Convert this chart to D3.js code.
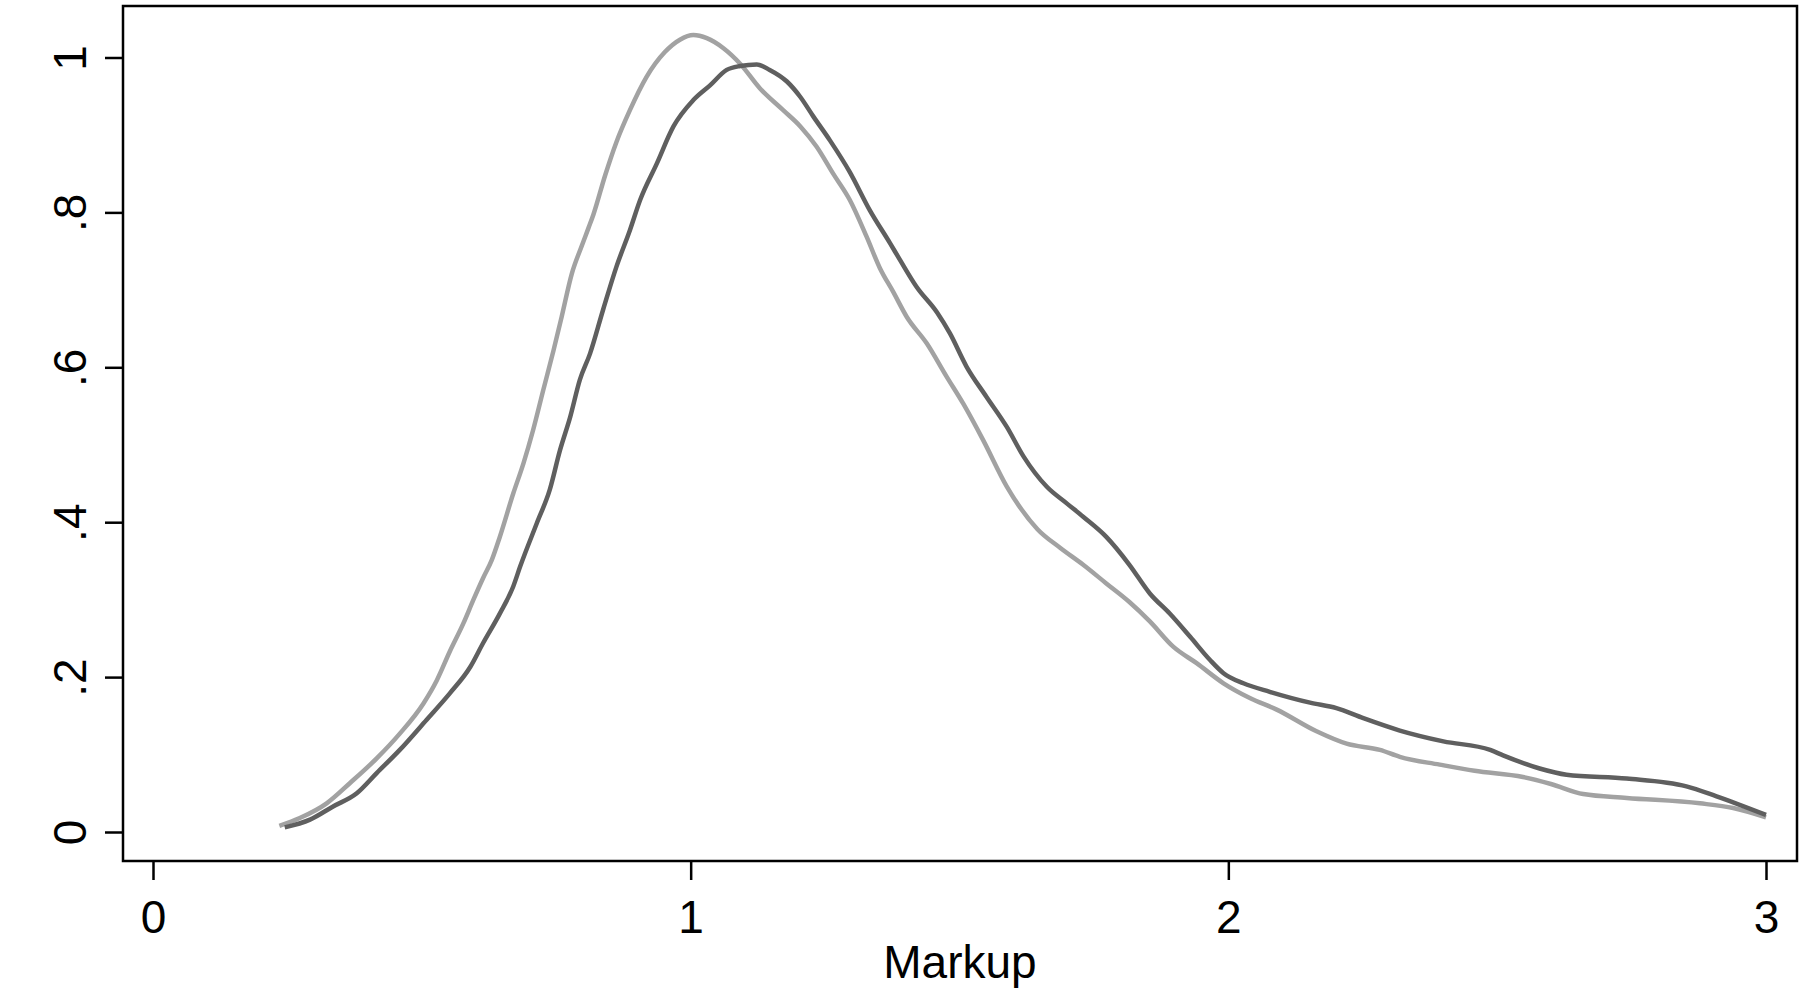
<!DOCTYPE html>
<html>
<head>
<meta charset="utf-8">
<script src="https://cdn.jsdelivr.net/npm/d3@7"></script>
<style>
  body { margin: 0; background: #fff; }
  svg text { font-family: "Liberation Sans", Arial, Helvetica, sans-serif; fill: #000; }
</style>
</head>
<body>
<svg id="chart" width="1806" height="991"></svg>
<script>
// markup values and kernel density
var lightX = [0.235, 0.273, 0.323, 0.366, 0.416, 0.459, 0.503, 0.528, 0.552, 0.577, 0.596, 0.614, 0.630, 0.645, 0.670, 0.689, 0.707, 0.726, 0.745, 0.760, 0.779, 0.797, 0.810, 0.819, 0.841, 0.862, 0.887, 0.918, 0.952, 0.980, 1.005, 1.030, 1.061, 1.092, 1.129, 1.172, 1.204, 1.234, 1.265, 1.296, 1.327, 1.352, 1.377, 1.402, 1.439, 1.476, 1.507, 1.544, 1.588, 1.645, 1.687, 1.730, 1.773, 1.816, 1.854, 1.898, 1.941, 1.991, 2.040, 2.090, 2.164, 2.220, 2.282, 2.319, 2.393, 2.458, 2.548, 2.600, 2.660, 2.741, 2.877, 2.939, 3.000];
var lightY = [0.008, 0.018, 0.037, 0.063, 0.095, 0.127, 0.166, 0.196, 0.233, 0.269, 0.300, 0.328, 0.351, 0.381, 0.437, 0.476, 0.519, 0.571, 0.622, 0.665, 0.721, 0.756, 0.780, 0.797, 0.848, 0.891, 0.932, 0.975, 1.007, 1.023, 1.029, 1.025, 1.012, 0.992, 0.960, 0.932, 0.911, 0.885, 0.850, 0.816, 0.769, 0.728, 0.697, 0.665, 0.631, 0.588, 0.553, 0.506, 0.446, 0.391, 0.367, 0.345, 0.321, 0.297, 0.272, 0.239, 0.218, 0.192, 0.173, 0.158, 0.130, 0.114, 0.106, 0.097, 0.087, 0.079, 0.071, 0.062, 0.049, 0.044, 0.037, 0.031, 0.019];

var darkX = [0.245, 0.292, 0.335, 0.379, 0.416, 0.459, 0.509, 0.552, 0.590, 0.614, 0.645, 0.670, 0.683, 0.714, 0.738, 0.757, 0.776, 0.794, 0.813, 0.837, 0.862, 0.887, 0.906, 0.937, 0.968, 1.005, 1.036, 1.067, 1.092, 1.123, 1.147, 1.179, 1.204, 1.228, 1.259, 1.296, 1.333, 1.371, 1.389, 1.420, 1.458, 1.482, 1.513, 1.550, 1.588, 1.619, 1.662, 1.700, 1.730, 1.773, 1.816, 1.854, 1.891, 1.929, 1.966, 1.991, 2.028, 2.077, 2.152, 2.201, 2.251, 2.319, 2.400, 2.487, 2.511, 2.579, 2.629, 2.741, 2.852, 2.908, 3.000];
var darkY = [0.006, 0.016, 0.033, 0.050, 0.076, 0.106, 0.145, 0.179, 0.213, 0.244, 0.282, 0.317, 0.343, 0.399, 0.442, 0.493, 0.536, 0.584, 0.618, 0.674, 0.730, 0.777, 0.816, 0.863, 0.911, 0.945, 0.964, 0.984, 0.989, 0.991, 0.984, 0.969, 0.949, 0.924, 0.893, 0.852, 0.803, 0.760, 0.739, 0.704, 0.671, 0.644, 0.601, 0.562, 0.523, 0.485, 0.446, 0.424, 0.407, 0.381, 0.345, 0.308, 0.282, 0.252, 0.222, 0.205, 0.192, 0.181, 0.167, 0.160, 0.147, 0.131, 0.117, 0.106, 0.099, 0.082, 0.074, 0.069, 0.059, 0.046, 0.022];

var xTicks = [0, 1, 2, 3];
var yTicks = [0, 0.2, 0.4, 0.6, 0.8, 1];
var yTickLabels = ['0', '.2', '.4', '.6', '.8', '1'];

var svg = d3.select('#chart');

var frame = {left: 123, right: 1797, top: 6, bottom: 861};

var x = d3.scaleLinear().domain([0, 3]).range([153, 1766]);
var y = d3.scaleLinear().domain([0, 1]).range([832, 57.5]);

function toPoints(xs, ys) {
	return xs.map(function(v, i) { return [v, ys[i]]; });
}

var line = d3.line()
	.x(function(d) { return x(d[0]); })
	.y(function(d) { return y(d[1]); })
	.curve(d3.curveMonotoneX);

svg.append('path')
	.datum(toPoints(lightX, lightY))
	.attr('d', line)
	.attr('fill', 'none')
	.attr('stroke', '#a2a2a2')
	.attr('stroke-width', 4.5)
	.attr('stroke-linejoin', 'round');

svg.append('path')
	.datum(toPoints(darkX, darkY))
	.attr('d', line)
	.attr('fill', 'none')
	.attr('stroke', '#5f5f5f')
	.attr('stroke-width', 4.5)
	.attr('stroke-linejoin', 'round');

// plot frame
svg.append('rect')
	.attr('x', frame.left)
	.attr('y', frame.top)
	.attr('width', frame.right - frame.left)
	.attr('height', frame.bottom - frame.top)
	.attr('fill', 'none')
	.attr('stroke', '#000')
	.attr('stroke-width', 2.5);

// y axis, labels turned the Stata way
var yAxis = svg.append('g')
	.attr('transform', 'translate(' + frame.left + ',0)')
	.call(d3.axisLeft(y).tickValues(yTicks).tickSize(18)
		.tickFormat(function(d, i) { return yTickLabels[i]; }));
yAxis.select('.domain').remove();
yAxis.selectAll('line').attr('stroke', '#000').attr('stroke-width', 2.5);
yAxis.selectAll('text')
	.attr('x', 0)
	.attr('dy', 0)
	.attr('text-anchor', 'middle')
	.attr('transform', 'translate(-37,0) rotate(-90)')
	.style('font-size', '46px');

// x axis
var xAxis = svg.append('g')
	.attr('transform', 'translate(0,' + frame.bottom + ')')
	.call(d3.axisBottom(x).tickValues(xTicks).tickSize(19).tickFormat(d3.format('d')));
xAxis.select('.domain').remove();
xAxis.selectAll('line').attr('stroke', '#000').attr('stroke-width', 2.5);
xAxis.selectAll('text')
	.attr('y', 72)
	.attr('dy', 0)
	.style('font-size', '46px');

svg.append('text')
	.attr('x', (frame.left + frame.right) / 2)
	.attr('y', 978)
	.attr('text-anchor', 'middle')
	.style('font-size', '46px')
	.text('Markup');
</script>
</body>
</html>
